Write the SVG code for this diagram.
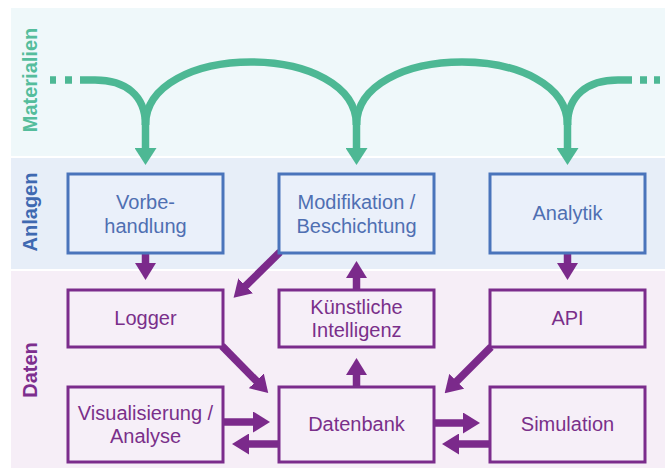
<svg xmlns="http://www.w3.org/2000/svg" width="665" height="468" viewBox="0 0 665 468">
<style>
.lbl{font-family:"Liberation Sans",Arial,sans-serif;font-weight:bold;font-size:20px;text-anchor:middle}
.t{font-family:"Liberation Sans",Arial,sans-serif;font-size:20px;text-anchor:middle}
.bb{fill:#eaf0fa;stroke:#4a74bb;stroke-width:3}
.pb{fill:#f6eff8;stroke:#7b2c8c;stroke-width:3}
.bt{fill:#4f6fb2}
.pt{fill:#7a2f8a}
.g{fill:none;stroke:#4db894;stroke-width:7.5}
.p{fill:none;stroke:#7b2a8b;stroke-width:7.5;marker-end:url(#ph)}
</style>
<defs>
<marker id="ph" markerUnits="userSpaceOnUse" markerWidth="17" markerHeight="21" refX="1" refY="10.5" orient="auto">
<path d="M0,0 L17,10.5 L0,21 Z" fill="#7b2a8b"/>
</marker>
<marker id="gh" markerUnits="userSpaceOnUse" markerWidth="17" markerHeight="22" refX="1" refY="11" orient="auto">
<path d="M0,0 L17,11 L0,22 Z" fill="#4db894"/>
</marker>
</defs>
<rect x="0" y="0" width="665" height="468" fill="#ffffff"/>
<g id="bands">
<rect x="11" y="8" width="654" height="148" fill="#eff8fa"/>
<rect x="11" y="158" width="654" height="111" fill="#e7eef8"/>
<rect x="11" y="271" width="654" height="197" fill="#f6eef7"/>
<text class="lbl" fill="#55bd9c" transform="translate(37,80) rotate(-90)">Materialien</text>
<text class="lbl" fill="#3f69b1" transform="translate(37,212) rotate(-90)">Anlagen</text>
<text class="lbl" fill="#7d2e8e" transform="translate(37,370) rotate(-90)">Daten</text>
</g>
<g id="connectors">
<path class="g" d="M50,80 H56 M65,80 H72"/>
<path class="g" d="M80,80 H95 C125,80 145.5,95 145.5,125"/>
<path class="g" d="M145.5,125 C145.5,85 195,62 251,62 C307,62 356.5,85 356.5,125"/>
<path class="g" d="M356.5,125 C356.5,85 406,62 462,62 C518,62 567.5,85 567.5,125"/>
<path class="g" d="M567.5,125 C567.5,95 588,80 618,80 H632"/>
<path class="g" d="M640,80 H647 M654,80 H660"/>
<line class="g" x1="145.5" y1="118" x2="145.5" y2="149" marker-end="url(#gh)"/>
<line class="g" x1="356.5" y1="118" x2="356.5" y2="149" marker-end="url(#gh)"/>
<line class="g" x1="567.5" y1="118" x2="567.5" y2="149" marker-end="url(#gh)"/>
<line class="p" x1="145.5" y1="253" x2="145.5" y2="264"/>
<line class="p" x1="567.5" y1="253" x2="567.5" y2="264"/>
<line class="p" x1="280" y1="252" x2="245" y2="286.5"/>
<line class="p" x1="356.5" y1="290" x2="356.5" y2="277"/>
<line class="p" x1="356.5" y1="387" x2="356.5" y2="374"/>
<line class="p" x1="222" y1="346" x2="257" y2="381.5"/>
<line class="p" x1="491" y1="347" x2="456" y2="382"/>
<line class="p" x1="223" y1="422" x2="254" y2="422"/>
<line class="p" x1="279" y1="444" x2="248" y2="444"/>
<line class="p" x1="434" y1="423" x2="464" y2="423"/>
<line class="p" x1="490" y1="444" x2="458" y2="444"/>
</g>
<g id="vorbehandlung">
<rect class="bb" x="68" y="174" width="155" height="79"/>
<text class="t bt" x="145.5" y="209">Vorbe-</text>
<text class="t bt" x="145.5" y="233">handlung</text>
</g>
<g id="modifikation">
<rect class="bb" x="279" y="174" width="155" height="79"/>
<text class="t bt" x="356.5" y="209">Modifikation /</text>
<text class="t bt" x="356.5" y="233">Beschichtung</text>
</g>
<g id="analytik">
<rect class="bb" x="490" y="174" width="155" height="79"/>
<text class="t bt" x="567.5" y="220">Analytik</text>
</g>
<g id="logger">
<rect class="pb" x="68" y="290" width="155" height="57"/>
<text class="t pt" x="145.5" y="325">Logger</text>
</g>
<g id="ki">
<rect class="pb" x="279" y="290" width="155" height="57"/>
<text class="t pt" x="356.5" y="314">Künstliche</text>
<text class="t pt" x="356.5" y="337">Intelligenz</text>
</g>
<g id="api">
<rect class="pb" x="490" y="290" width="155" height="57"/>
<text class="t pt" x="567.5" y="325">API</text>
</g>
<g id="visualisierung">
<rect class="pb" x="68" y="387" width="155" height="75"/>
<text class="t pt" x="145.5" y="420">Visualisierung /</text>
<text class="t pt" x="145.5" y="443">Analyse</text>
</g>
<g id="datenbank">
<rect class="pb" x="279" y="387" width="155" height="75"/>
<text class="t pt" x="356.5" y="431">Datenbank</text>
</g>
<g id="simulation">
<rect class="pb" x="490" y="387" width="155" height="75"/>
<text class="t pt" x="567.5" y="431">Simulation</text>
</g>
</svg>
